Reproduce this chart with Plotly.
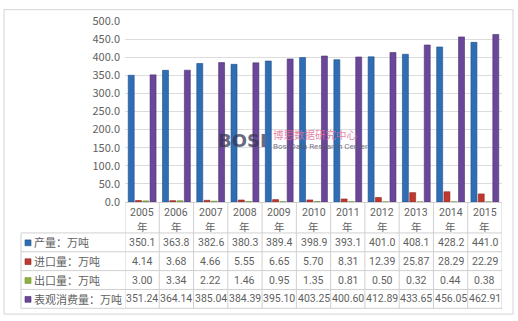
import plotly.graph_objects as go

years = ["2005", "2006", "2007", "2008", "2009", "2010", "2011", "2012", "2013", "2014", "2015"]
production = [350.1, 363.8, 382.6, 380.3, 389.4, 398.9, 393.1, 401.0, 408.1, 428.2, 441.0]
imports = [4.14, 3.68, 4.66, 5.55, 6.65, 5.70, 8.31, 12.39, 25.87, 28.29, 22.29]
exports = [3.00, 3.34, 2.22, 1.46, 0.95, 1.35, 0.81, 0.50, 0.32, 0.44, 0.38]
consumption = [351.24, 364.14, 385.04, 384.39, 395.10, 403.25, 400.60, 412.89, 433.65, 456.05, 462.91]

series_names = ["产量：万吨", "进口量：万吨", "出口量：万吨", "表观消费量：万吨"]
series_vals = [production, imports, exports, consumption]
series_fmt = ["{:.1f}", "{:.2f}", "{:.2f}", "{:.2f}"]
colors = ["#2F6EB5", "#C0392F", "#8DB43E", "#6A4799"]
lines = ["#1F4E85", "#8E2620", "#6A8A2C", "#4B3170"]
yticks = [0, 50, 100, 150, 200, 250, 300, 350, 400, 450, 500]

W, H = 518, 321
L, R, T, B = 125, 16, 14.7, 119
plot_h = H - T - B
plot_w = W - L - R
x_axis_px = H - B


def py(p):
    return (x_axis_px - p) / plot_h


def px(p):
    return (p - L) / plot_w


fig = go.Figure()
for name, vals, c, lc in zip(series_names, series_vals, colors, lines):
    fig.add_trace(go.Bar(x=list(range(len(years))), y=vals, name=name,
                         marker=dict(color=c, line=dict(color=lc, width=0.6))))

FONT = "Noto Sans CJK SC, Noto Sans, sans-serif"
NUMFONT = "Roboto, Noto Sans, sans-serif"
TXT = "#5f5f5f"
GRID = "#d0d0d0"
ann = []
shapes = []

n = len(years)
row_tops = [234, 253.5, 273, 292.5, 312]
# header (years)
for i, yr in enumerate(years):
    ann.append(dict(x=i, y=py(213), xref="x", yref="paper", text=yr, showarrow=False,
                    xanchor="center", yanchor="middle",
                    font=dict(size=10.5, color=TXT, family=NUMFONT)))
    ann.append(dict(x=i, y=py(227.5), xref="x", yref="paper", text="年", showarrow=False,
                    xanchor="center", yanchor="middle",
                    font=dict(size=10.5, color=TXT, family=FONT)))
# rows
for r, (name, vals, fmtv, c, lc) in enumerate(zip(series_names, series_vals, series_fmt, colors, lines)):
    yc = (row_tops[r] + row_tops[r + 1]) / 2
    shapes.append(dict(type="rect", xref="paper", yref="paper", x0=px(25), x1=px(31),
                       y0=py(yc + 3.5), y1=py(yc - 2.5), fillcolor=c,
                       line=dict(color=lc, width=0.6)))
    ann.append(dict(x=px(32), y=py(yc), xref="paper", yref="paper", xanchor="left",
                    yanchor="middle", text=name, showarrow=False,
                    font=dict(size=11, color=TXT, family=FONT)))
    for i, v in enumerate(vals):
        ann.append(dict(x=i, y=py(yc), xref="x", yref="paper", text=fmtv.format(v),
                        xanchor="center", yanchor="middle", showarrow=False,
                        font=dict(size=10.5, color=TXT, family=NUMFONT)))

# table lines
for i in range(n + 1):
    shapes.append(dict(type="line", xref="x", yref="paper", x0=i - 0.5, x1=i - 0.5,
                       y0=py(x_axis_px), y1=py(row_tops[-1]), line=dict(color=GRID, width=1)))
shapes.append(dict(type="line", xref="paper", yref="paper", x0=px(21), x1=px(21),
                   y0=py(row_tops[0]), y1=py(row_tops[-1]), line=dict(color=GRID, width=1)))
for yy in row_tops:
    shapes.append(dict(type="line", xref="paper", yref="paper", x0=px(21), x1=1,
                       y0=py(yy), y1=py(yy), line=dict(color=GRID, width=1)))
# outer border
shapes.append(dict(type="rect", xref="paper", yref="paper", x0=px(4), x1=px(513),
                   y0=py(318), y1=py(3), line=dict(color="#d4d4d4", width=1)))

# watermark
ann.append(dict(x=px(269), y=py(138), xref="paper", yref="paper", text="<b>BOSI</b>",
                xanchor="right", yanchor="middle",
                showarrow=False, font=dict(size=18, color="rgba(55,55,85,0.75)", family="DejaVu Sans")))
ann.append(dict(x=px(271), y=py(132.5), xref="paper", yref="paper", xanchor="left",
                yanchor="middle", text="博思数据研究中心", showarrow=False,
                font=dict(size=10.5, color="rgba(225,110,150,0.85)", family=FONT)))
ann.append(dict(x=px(271), y=py(144.5), xref="paper", yref="paper", xanchor="left",
                yanchor="middle", text="Bosi Data Research Center", showarrow=False,
                font=dict(size=8, color="rgba(90,90,110,0.85)", family="Liberation Sans Narrow, Roboto")))

fig.update_layout(
    width=W, height=H,
    margin=dict(l=L, r=R, t=T, b=B, pad=0),
    paper_bgcolor="white", plot_bgcolor="white",
    barmode="group", bargap=0.15, bargroupgap=0.18,
    showlegend=False,
    annotations=ann, shapes=shapes,
    xaxis=dict(range=[-0.5, n - 0.5], showticklabels=False, showgrid=False,
               showline=True, linecolor=GRID, zeroline=False, fixedrange=True),
    yaxis=dict(range=[0, 500], tickvals=yticks, ticktext=[f"{v:.1f}" for v in yticks],
               showgrid=True, gridcolor="#dcdcdc", gridwidth=1, zeroline=False,
               tickfont=dict(size=11, color=TXT, family=FONT), ticks="", ticklabelstandoff=4,
               showline=False),
)

fig.write_html("out.html")
